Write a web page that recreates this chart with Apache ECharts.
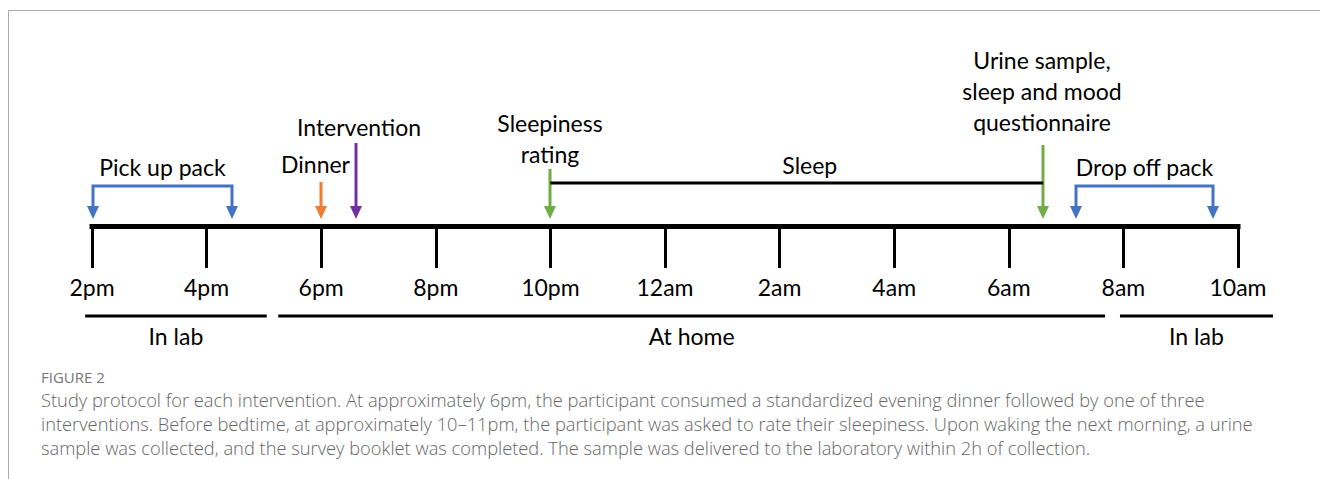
<!DOCTYPE html>
<html>
<head>
<meta charset="utf-8">
<script src="https://cdn.jsdelivr.net/npm/echarts@6/dist/echarts.min.js"></script>
<style>
  html, body { margin: 0; padding: 0; background: #fff; }
  #chart { width: 1320px; height: 479px; }
</style>
</head>
<body>
<div id="chart"></div>
<script>
// hours since midnight of day 1 (2pm = 14, 10am next day = 34)
const tickHours = [14, 16, 18, 20, 22, 24, 26, 28, 30, 32, 34];
const tickLabels = ['2pm', '4pm', '6pm', '8pm', '10pm', '12am', '2am', '4am', '6am', '8am', '10am'];

// single events shown as arrows
const eventNames = ['Dinner', 'Intervention', 'Sleepiness\nrating', 'Urine sample,\nsleep and mood\nquestionnaire'];
const eventHours = [18, 18.6, 22, 30.6];

// pack pick up / drop off brackets
const packNames = ['Pick up pack', 'Drop off pack'];
const packStart = [14, 31.16];
const packEnd = [16.45, 33.56];

// sleep period
const sleepSpan = [22, 30.6];

// where the participant was
const placeNames = ['In lab', 'At home', 'In lab'];
const placeStart = [13.88, 17.25, 31.94];
const placeEnd = [17.05, 31.68, 34.61];

// styling (pixels relative to the time axis)
const font = 'Lato';
const fs = 23;
const eventColors = ['#ED7D31', '#7030A0', '#70AD47', '#70AD47'];
const eventTop = [-44, -83, -57, -81];
const eventLabelDx = [29, 3, 0, -1];
const eventLabelDy = [-62, -99, -88, -135];
const eventLabelAlign = ['right', 'center', 'center', 'center'];
const blue = '#4472C4';
const tipGap = -7;

function arrowHead(x, yTip, color) {
  return {
    type: 'polygon',
    shape: { points: [[x - 6, yTip - 13], [x + 6, yTip - 13], [x, yTip]] },
    style: { fill: color }
  };
}

const chart = echarts.init(document.getElementById('chart'), null, { renderer: 'svg' });

chart.setOption({
  animation: false,
  grid: { left: 92, right: 82, top: 20, bottom: 253 },
  xAxis: {
    type: 'value',
    min: 14,
    max: 34,
    interval: 2,
    axisLine: { lineStyle: { color: '#000', width: 5, cap: 'square' } },
    axisTick: { length: 42, lineStyle: { color: '#000', width: 3 } },
    splitLine: { show: false },
    axisLabel: {
      margin: 49,
      fontFamily: font,
      fontSize: fs,
      color: '#000',
      formatter: v => tickLabels[tickHours.indexOf(v)]
    }
  },
  yAxis: { type: 'value', min: 0, max: 1, show: false },
  title: {
    left: 41,
    top: 369,
    padding: 0,
    text: 'FIGURE 2',
    textStyle: { fontFamily: 'Open Sans', fontSize: 15, fontWeight: 500, color: '#777' },
    subtext: 'Study protocol for each intervention. At approximately 6pm, the participant consumed a standardized evening dinner followed by one of three\ninterventions. Before bedtime, at approximately 10\u201311pm, the participant was asked to rate their sleepiness. Upon waking the next morning, a urine\nsample was collected, and the survey booklet was completed. The sample was delivered to the laboratory within 2h of collection.',
    subtextStyle: { fontFamily: 'Open Sans', fontSize: 18.3, fontWeight: 300, color: '#666', lineHeight: 24 },
    itemGap: 3
  },
  graphic: [{
    type: 'polyline',
    shape: { points: [[8.5, 479], [8.5, 10.5], [1320, 10.5]] },
    style: { stroke: '#aaa', lineWidth: 1, fill: null }
  }],
  series: [
    {
      type: 'custom',
      name: 'events',
      clip: false,
      data: eventHours.map((h, i) => [h, i]),
      renderItem: (params, api) => {
        const i = api.value(1);
        const p = api.coord([api.value(0), 0]);
        const x = Math.round(p[0]), y0 = p[1];
        const c = eventColors[i];
        return {
          type: 'group',
          children: [
            { type: 'line', shape: { x1: x, y1: y0 + eventTop[i], x2: x, y2: y0 + tipGap - 10 }, style: { stroke: c, lineWidth: 3 } },
            arrowHead(x, y0 + tipGap, c),
            {
              type: 'text',
              x: x + eventLabelDx[i],
              y: y0 + eventLabelDy[i],
              style: { text: eventNames[i], fontFamily: font, fontSize: fs, fill: '#000', align: eventLabelAlign[i], verticalAlign: 'middle', lineHeight: 31 }
            }
          ]
        };
      }
    },
    {
      type: 'custom',
      name: 'packs',
      clip: false,
      data: packStart.map((s, i) => [s, packEnd[i], i]),
      renderItem: (params, api) => {
        const i = api.value(2);
        const a = api.coord([api.value(0), 0]);
        const b = api.coord([api.value(1), 0]);
        const y0 = a[1], yb = y0 - 40;
        const xa = Math.round(a[0]) + 1, xb = Math.round(b[0]);
        return {
          type: 'group',
          children: [
            { type: 'polyline', shape: { points: [[xa, y0 + tipGap - 10], [xa, yb], [xb, yb], [xb, y0 + tipGap - 10]] }, style: { stroke: blue, lineWidth: 3, fill: null } },
            arrowHead(xa, y0 + tipGap, blue),
            arrowHead(xb, y0 + tipGap, blue),
            {
              type: 'text',
              x: (xa + xb) / 2,
              y: y0 - 59,
              style: { text: packNames[i], fontFamily: font, fontSize: fs, fill: '#000', align: 'center', verticalAlign: 'middle' }
            }
          ]
        };
      }
    },
    {
      type: 'custom',
      name: 'sleep',
      clip: false,
      data: [sleepSpan],
      renderItem: (params, api) => {
        const a = api.coord([api.value(0), 0]);
        const b = api.coord([api.value(1), 0]);
        const y = a[1] - 43;
        return {
          type: 'group',
          children: [
            { type: 'line', shape: { x1: a[0], y1: y, x2: b[0], y2: y }, style: { stroke: '#000', lineWidth: 3 } },
            {
              type: 'text',
              x: (a[0] + b[0]) / 2 + 13,
              y: y - 18,
              style: { text: 'Sleep', fontFamily: font, fontSize: fs, fill: '#000', align: 'center', verticalAlign: 'middle' }
            }
          ]
        };
      }
    },
    {
      type: 'custom',
      name: 'places',
      clip: false,
      data: placeStart.map((s, i) => [s, placeEnd[i], i]),
      renderItem: (params, api) => {
        const i = api.value(2);
        const a = api.coord([api.value(0), 0]);
        const b = api.coord([api.value(1), 0]);
        const y = a[1] + 90;
        return {
          type: 'group',
          children: [
            { type: 'line', shape: { x1: a[0], y1: y, x2: b[0], y2: y }, style: { stroke: '#000', lineWidth: 3 } },
            {
              type: 'text',
              x: (a[0] + b[0]) / 2,
              y: y + 20,
              style: { text: placeNames[i], fontFamily: font, fontSize: fs, fill: '#000', align: 'center', verticalAlign: 'middle' }
            }
          ]
        };
      }
    }
  ]
});
</script>
</body>
</html>
